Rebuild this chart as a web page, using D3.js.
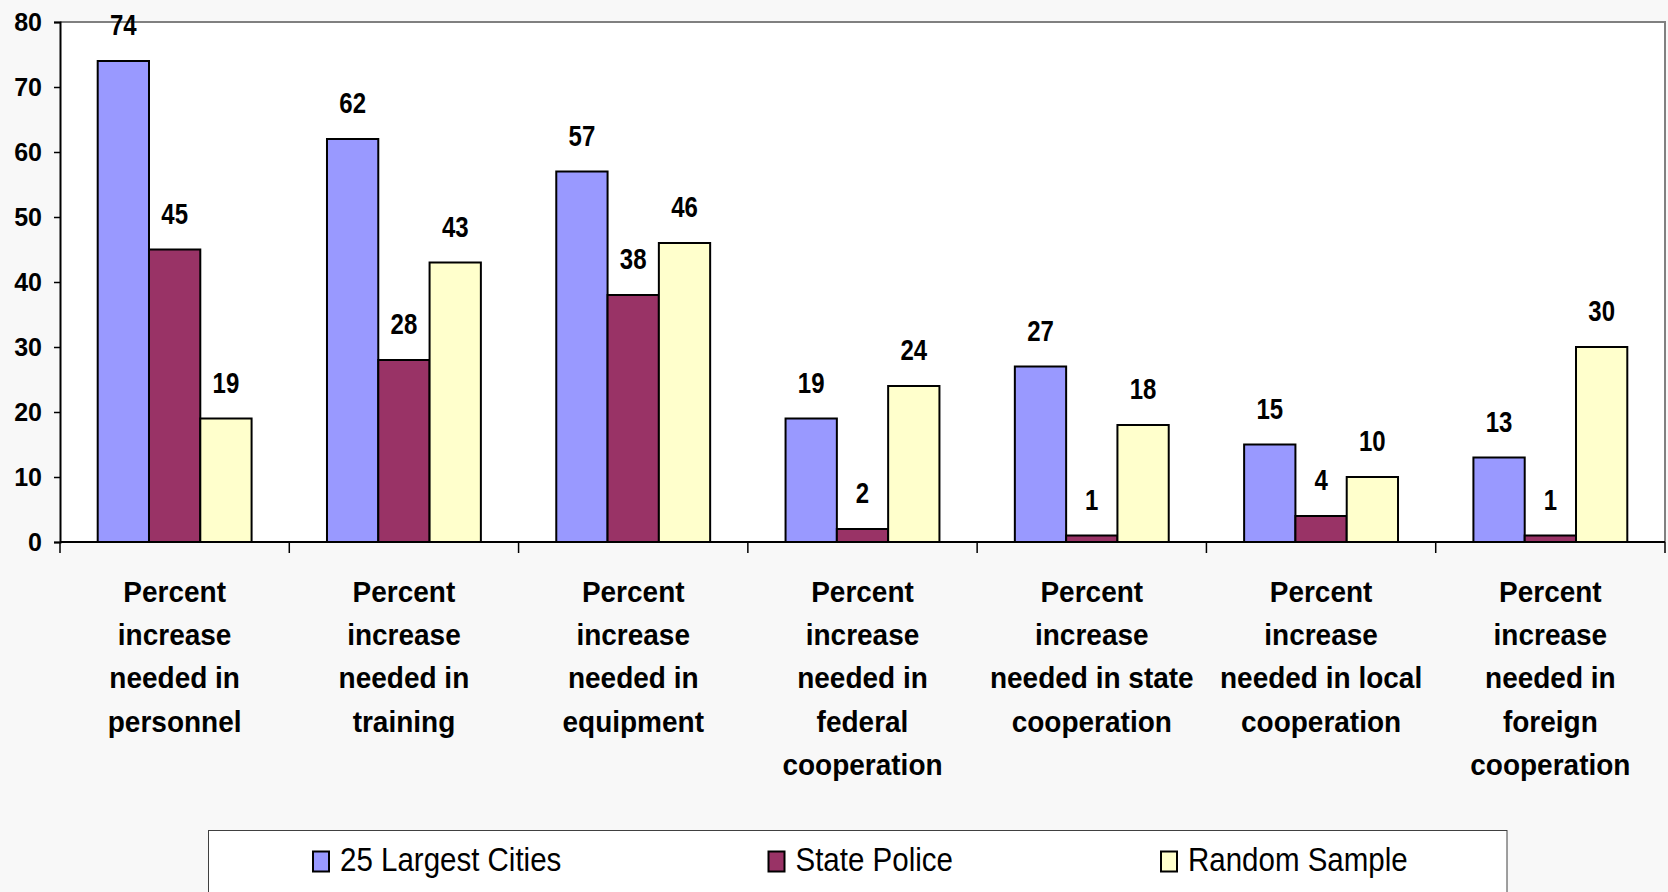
<!DOCTYPE html>
<html>
<head>
<meta charset="utf-8">
<script src="https://cdn.jsdelivr.net/npm/d3@7"></script>
<style>
  html, body { margin: 0; padding: 0; background: #f8f8f8; }
  svg { display: block; font-family: "Liberation Sans", Arial, sans-serif; }
</style>
</head>
<body>
<svg id="chart" width="1668" height="892"></svg>
<script>
// chart data
const categories = [
  "Percent\nincrease\nneeded in\npersonnel",
  "Percent\nincrease\nneeded in\ntraining",
  "Percent\nincrease\nneeded in\nequipment",
  "Percent\nincrease\nneeded in\nfederal\ncooperation",
  "Percent\nincrease\nneeded in state\ncooperation",
  "Percent\nincrease\nneeded in local\ncooperation",
  "Percent\nincrease\nneeded in\nforeign\ncooperation"
];
const seriesNames = ["25 Largest Cities", "State Police", "Random Sample"];
const largestCities = [74, 62, 57, 19, 27, 15, 13];
const statePolice = [45, 28, 38, 2, 1, 4, 1];
const randomSample = [19, 43, 46, 24, 18, 10, 30];
const yTicks = [0, 10, 20, 30, 40, 50, 60, 70, 80];

const seriesValues = [largestCities, statePolice, randomSample];
const colors = ["#9999ff", "#993366", "#ffffcc"];

const svg = d3.select("#chart");

const plot = { left: 60, right: 1665, top: 22, bottom: 542 };

const x = d3.scaleBand()
  .domain(d3.range(categories.length))
  .range([plot.left, plot.right])
  .padding(0);

const x1 = d3.scaleBand()
  .domain(d3.range(seriesNames.length))
  .range([0, x.bandwidth()])
  .paddingInner(0)
  .paddingOuter(0.735);

const y = d3.scaleLinear().domain([0, 80]).range([plot.bottom, plot.top]);

// plot area
svg.append("rect")
  .attr("x", plot.left).attr("y", plot.top)
  .attr("width", plot.right - plot.left)
  .attr("height", plot.bottom - plot.top)
  .attr("fill", "#ffffff");
svg.append("path")
  .attr("d", `M${plot.left},${plot.top}H${plot.right}V${plot.bottom}`)
  .attr("fill", "none")
  .attr("stroke", "#808080")
  .attr("stroke-width", 2);

// bars
const groups = svg.append("g").selectAll("g")
  .data(categories)
  .join("g")
  .attr("transform", (d, i) => `translate(${x(i)},0)`);

groups.selectAll("rect")
  .data((d, i) => seriesValues.map((s, k) => ({ k: k, v: s[i] })))
  .join("rect")
  .attr("x", d => x1(d.k))
  .attr("y", d => y(d.v))
  .attr("width", x1.bandwidth())
  .attr("height", d => y(0) - y(d.v))
  .attr("fill", d => colors[d.k])
  .attr("stroke", "#000")
  .attr("stroke-width", 2);

// value labels
groups.selectAll("text")
  .data((d, i) => seriesValues.map((s, k) => ({ k: k, v: s[i] })))
  .join("text")
  .attr("transform", d => `translate(${x1(d.k) + x1.bandwidth() / 2},${y(d.v) - 26}) scale(1,1.24)`)
  .attr("text-anchor", "middle")
  .attr("font-size", 24)
  .attr("font-weight", "bold")
  .attr("fill", "#000")
  .text(d => d.v);

// y axis
const yAxis = svg.append("g")
  .attr("transform", `translate(${plot.left},0)`)
  .call(d3.axisLeft(y).tickValues(yTicks).tickSize(6).tickPadding(12));
yAxis.select(".domain").attr("stroke", "#000").attr("stroke-width", 2);
yAxis.selectAll(".tick line").attr("stroke", "#000").attr("stroke-width", 1.5);
yAxis.selectAll(".tick text")
  .attr("font-size", 25)
  .attr("font-weight", "bold")
  .attr("font-family", "Liberation Sans, Arial, sans-serif")
  .attr("fill", "#000");

// x axis line and ticks at the category edges
svg.append("line")
  .attr("x1", plot.left).attr("x2", plot.right)
  .attr("y1", plot.bottom).attr("y2", plot.bottom)
  .attr("stroke", "#000").attr("stroke-width", 2);
const edges = d3.range(categories.length).map(i => x(i)).concat([x.range()[1]]);
svg.append("g").selectAll("line")
  .data(edges)
  .join("line")
  .attr("x1", d => d).attr("x2", d => d)
  .attr("y1", plot.bottom).attr("y2", plot.bottom + 11)
  .attr("stroke", "#000").attr("stroke-width", 1.5);

// category labels
const catLabels = svg.append("g").selectAll("g")
  .data(categories)
  .join("g");
catLabels.each(function (d, i) {
  const lines = d.split("\n");
  d3.select(this).selectAll("text")
    .data(lines)
    .join("text")
    .attr("transform", (t, j) => `translate(${x(i) + x.bandwidth() / 2},${601.7 + j * 43.3}) scale(1,1.08)`)
    .attr("text-anchor", "middle")
    .attr("font-size", 28)
    .attr("font-weight", "bold")
    .attr("fill", "#000")
    .text(t => t);
});

// legend
svg.append("rect")
  .attr("x", 208.5).attr("y", 830.5)
  .attr("width", 1298.5).attr("height", 80)
  .attr("fill", "#ffffff")
  .attr("stroke", "#404040")
  .attr("stroke-width", 1);

const legendX = [313, 768.5, 1161];
const legend = svg.append("g").selectAll("g")
  .data(seriesNames)
  .join("g")
  .attr("transform", (d, i) => `translate(${legendX[i]},0)`);
legend.append("rect")
  .attr("x", 0).attr("y", 851.5)
  .attr("width", 16).attr("height", 20)
  .attr("fill", (d, i) => colors[i])
  .attr("stroke", "#000")
  .attr("stroke-width", 2);
legend.append("text")
  .attr("transform", "translate(27,870.5) scale(1,1.13)")
  .attr("font-size", 29.5)
  .attr("fill", "#000")
  .text(d => d);
</script>
</body>
</html>
